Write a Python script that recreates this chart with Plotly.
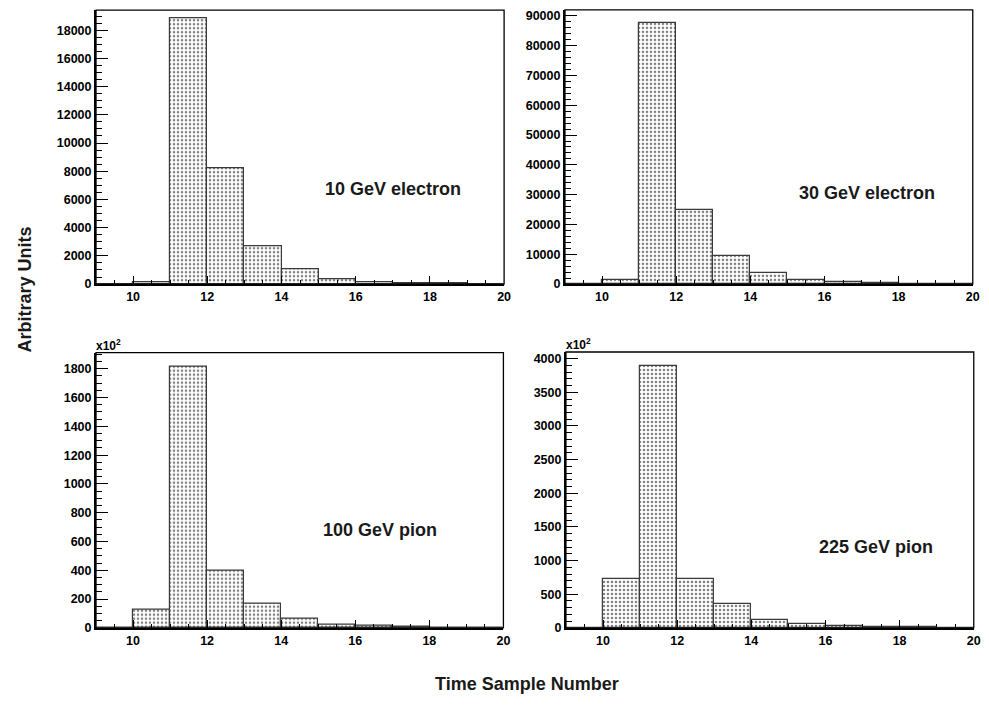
import plotly.graph_objects as go

# Bin centres (time sample bins from 9 to 20, width 1)
bin_centers = [9.5, 10.5, 11.5, 12.5, 13.5, 14.5, 15.5, 16.5, 17.5, 18.5, 19.5]

# Histogram contents
e10_values = [0, 150, 18830, 8200, 2700, 1030, 380, 100, 60, 40, 20]
e30_values = [0, 1500, 87800, 25000, 9500, 3800, 1500, 600, 250, 120, 60]
pi100_values = [0, 125, 1818, 395, 170, 62, 25, 12, 8, 4, 2]      # in units of 10^2
pi225_values = [0, 730, 3890, 730, 350, 122, 62, 32, 15, 8, 4]     # in units of 10^2

labels = ["10 GeV electron", "30 GeV electron", "100 GeV pion", "225 GeV pion"]
series = [e10_values, e30_values, pi100_values, pi225_values]

y_ranges = [[0, 19420], [0, 92000], [0, 1912], [0, 4100]]
y_dticks = [2000, 10000, 200, 500]
y_minor = [500, 2000, 50, 100]

W, H = 989, 708
# pixel boxes (left, right, top, bottom)
boxes = [(96.7, 507.7, 9.3, 286.3),
         (569.0, 979.7, 9.0, 286.3),
         (96.7, 507.0, 355.7, 634.0),
         (570.0, 980.7, 355.0, 634.0)]
label_pos = [(0.728, 0.347), (0.740, 0.332), (0.698, 0.356), (0.761, 0.293)]

FONT = "Liberation Sans, Arial, Helvetica, sans-serif"

fig = go.Figure()
for i, vals in enumerate(series):
    n = i + 1
    fig.add_trace(go.Bar(
        x=bin_centers, y=vals, width=1.0,
        xaxis=f"x{n if n > 1 else ''}", yaxis=f"y{n if n > 1 else ''}",
        marker=dict(color="white",
                    line=dict(color="#3a3a3a", width=1.2),
                    pattern=dict(shape=".", size=4, solidity=0.32,
                                 fgcolor="black", bgcolor="white")),
        showlegend=False, hoverinfo="x+y"))

layout = dict(width=W, height=H, margin=dict(l=0, r=0, t=0, b=0),
              plot_bgcolor="white", paper_bgcolor="white", bargap=0,
              font=dict(family=FONT, color="black", size=12))
annotations = []
shapes = []
for i, (l, r, t, b) in enumerate(boxes):
    n = i + 1
    sfx = "" if n == 1 else str(n)
    xd = [l / W, r / W]
    yd = [1 - b / H, 1 - t / H]
    layout[f"xaxis{sfx}"] = dict(
        domain=xd, anchor=f"y{sfx}", range=[9, 20],
        tick0=0, dtick=2, ticks="inside", ticklen=8, tickwidth=1.2, tickcolor="black",
        showgrid=False, zeroline=False, showline=True, linecolor="black", linewidth=2,
        tickfont=dict(family=FONT, size=12.5, color="black", weight="bold"),
        minor=dict(dtick=0.5, tick0=0, ticks="inside", ticklen=4, tickcolor="black", tickwidth=1))
    layout[f"yaxis{sfx}"] = dict(
        domain=yd, anchor=f"x{sfx}", range=y_ranges[i], tickformat="d",
        tick0=0, dtick=y_dticks[i], ticks="inside", ticklen=12, tickwidth=1.2, tickcolor="black",
        showgrid=False, zeroline=False, showline=True, linecolor="black", linewidth=2,
        tickfont=dict(family=FONT, size=12.5, color="black", weight="bold"),
        minor=dict(dtick=y_minor[i], tick0=0, ticks="inside", ticklen=6, tickcolor="black", tickwidth=1))
    shapes.append(dict(type="rect", xref=f"x{sfx} domain", yref=f"y{sfx} domain",
                       x0=0, x1=1, y0=0, y1=1, line=dict(color="black", width=1.3),
                       fillcolor="rgba(0,0,0,0)", layer="above"))
    annotations.append(dict(text=labels[i], xref=f"x{sfx} domain", yref=f"y{sfx} domain",
                            x=label_pos[i][0], y=label_pos[i][1], showarrow=False,
                            xanchor="center", yanchor="middle",
                            font=dict(family=FONT, size=18, color="#1a1a1a", weight="bold")))
    if n >= 3:
        annotations.append(dict(text="x10<sup>2</sup>", xref=f"x{sfx} domain", yref=f"y{sfx} domain",
                                x=0, y=1, xanchor="left", yanchor="bottom", showarrow=False,
                                xshift=-2, yshift=-2,
                                font=dict(family=FONT, size=12, color="black", weight="bold")))

annotations.append(dict(text="Arbitrary Units", xref="paper", yref="paper",
                        x=25 / W, y=1 - 292 / H, textangle=-90, showarrow=False,
                        xanchor="center", yanchor="middle",
                        font=dict(family=FONT, size=18, color="#1a1a1a", weight="bold")))
annotations.append(dict(text="Time Sample Number", xref="paper", yref="paper",
                        x=531 / W, y=1 - 691 / H, showarrow=False,
                        xanchor="center", yanchor="middle",
                        font=dict(family=FONT, size=18, color="#1a1a1a", weight="bold")))
layout["annotations"] = annotations
layout["shapes"] = shapes
fig.update_layout(**layout)
fig.write_html("out.html")
